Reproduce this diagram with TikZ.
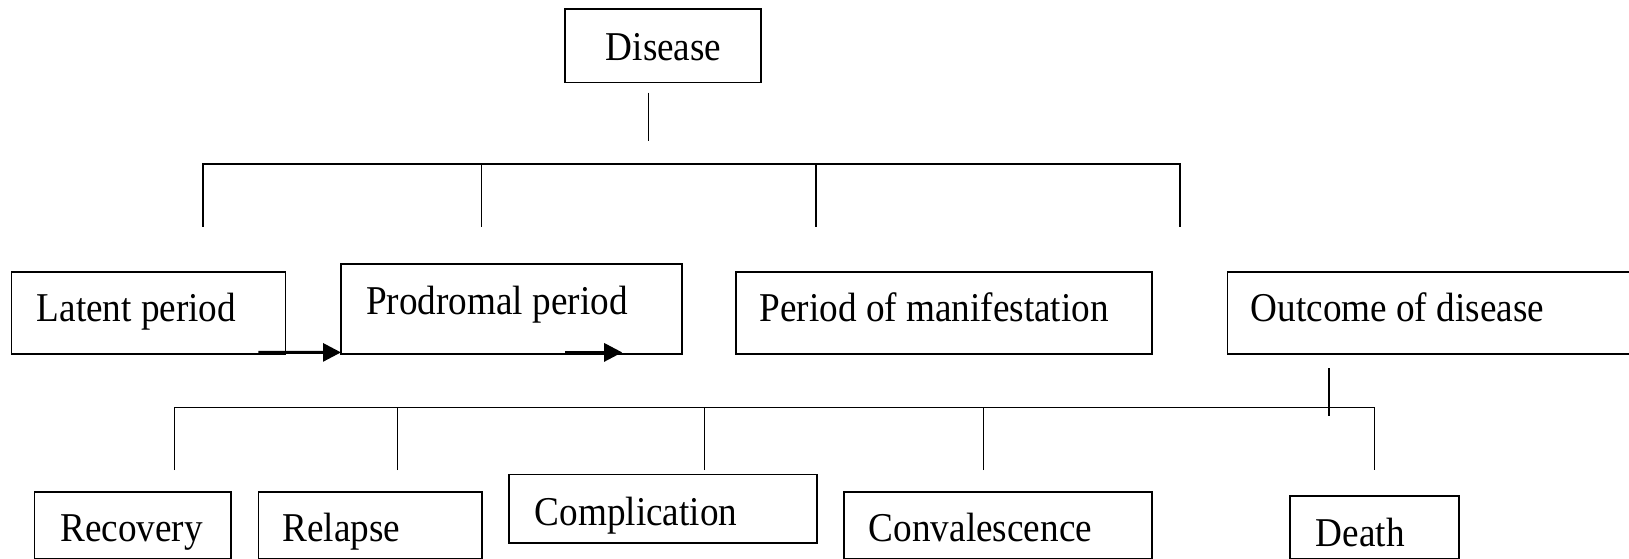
\documentclass[tikz,border=0pt]{standalone}
\usepackage{fontspec}
\setmainfont{Liberation Serif}
\usepackage{graphicx}
\usetikzlibrary{arrows.meta}
\newcommand\tx[1]{\scalebox{1}[1.1]{#1}}
\tikzset{
  box/.style={draw, line width=1.6pt, anchor=north west, inner sep=0pt, outer sep=0pt},
  lbl/.style={anchor=base west, inner sep=0pt, font=\fontsize{37.2pt}{41pt}\selectfont},
  link/.style={line width=1.5pt},
  flow/.style={line width=3pt, -{Triangle[length=18pt,width=18pt]}},
}
\begin{document}
\begin{tikzpicture}[x=1pt,y=-1pt]
\useasboundingbox (0,0) rectangle (1629,559);
\fill[white] (0,0) rectangle (1629,559);
\clip (0,0) rectangle (1629,559);

% boxes
\node[box, minimum width=196pt, minimum height=73.4pt] (dis) at (565,9.3) {};
\node[box, minimum width=274.1pt, minimum height=82pt] (lat) at (11.5,271.7) {};
\node[box, minimum width=341pt, minimum height=89.7pt] (pro) at (341,264) {};
\node[box, minimum width=416.1pt, minimum height=82pt] (man) at (735.9,271.7) {};
\node[box, minimum width=420pt, minimum height=82pt] (out) at (1227.3,271.7) {};
\node[box, minimum width=196.7pt, minimum height=66.6pt] (rec) at (34.5,491.7) {};
\node[box, minimum width=223.3pt, minimum height=66.6pt] (rel) at (258.4,491.7) {};
\node[box, minimum width=308.1pt, minimum height=68.4pt] (com) at (508.9,474.3) {};
\node[box, minimum width=308.3pt, minimum height=66.6pt] (con) at (843.9,491.7) {};
\node[box, minimum width=169.2pt, minimum height=62.6pt] (dea) at (1289.7,495.7) {};

% labels
\node[lbl] (tdis) at (605.6,60.7) {\tx{Disease}};
\node[lbl] (tlat) at (36.6,321.7) {\tx{Latent period}};
\node[lbl] (tpro) at (366,314.3) {\tx{Prodromal period}};
\node[lbl] (tman) at (759.4,321.7) {\tx{Period of manifestation}};
\node[lbl] (tout) at (1250.5,321.7) {\tx{Outcome of disease}};
\node[lbl] (trec) at (60.1,541.7) {\tx{Recovery}};
\node[lbl] (trel) at (282.4,541.7) {\tx{Relapse}};
\node[lbl] (tcom) at (534.5,525) {\tx{Complication}};
\node[lbl] (tcon) at (868.7,541.7) {\tx{Convalescence}};
\node[lbl] (tdea) at (1315.6,546) {\tx{Death}};

% upper tree
\coordinate (s1) at (648.5,92.7);
\coordinate (s2) at (648.5,140.7);
\draw[link] (s1) -- (s2);
\coordinate (ua) at (203,226.7);
\coordinate (ub) at (481.7,226.7);
\coordinate (uc) at (816,226.7);
\coordinate (ud) at (1180,226.7);
\draw[link] (ua) |- (ud |- 0,164) -- (ud);
\draw[link] (ub) -- (ub |- 0,164);
\draw[link] (uc) -- (uc |- 0,164);

% lower tree
\coordinate (o1) at (1328.8,368);
\coordinate (o2) at (1328.8,416);
\draw[link] (o1) -- (o2);
\coordinate (la) at (174.7,470);
\coordinate (lb) at (397.5,470);
\coordinate (lc) at (704.5,470);
\coordinate (ld) at (983.5,470);
\coordinate (le) at (1374.3,470);
\draw[link] (la) |- (le |- 0,407.3) -- (le);
\draw[link] (lb) -- (lb |- 0,407.3);
\draw[link] (lc) -- (lc |- 0,407.3);
\draw[link] (ld) -- (ld |- 0,407.3);

% arrows
\draw[flow] ([xshift=-27.2pt,yshift=1.3pt]lat.south east) -- ([yshift=1.3pt]pro.south west);
\coordinate (a2) at ([xshift=-59.8pt,yshift=1.3pt]pro.south east);
\draw[flow] ([xshift=-117pt,yshift=1.3pt]pro.south east) -- (a2);
\end{tikzpicture}
\end{document}
